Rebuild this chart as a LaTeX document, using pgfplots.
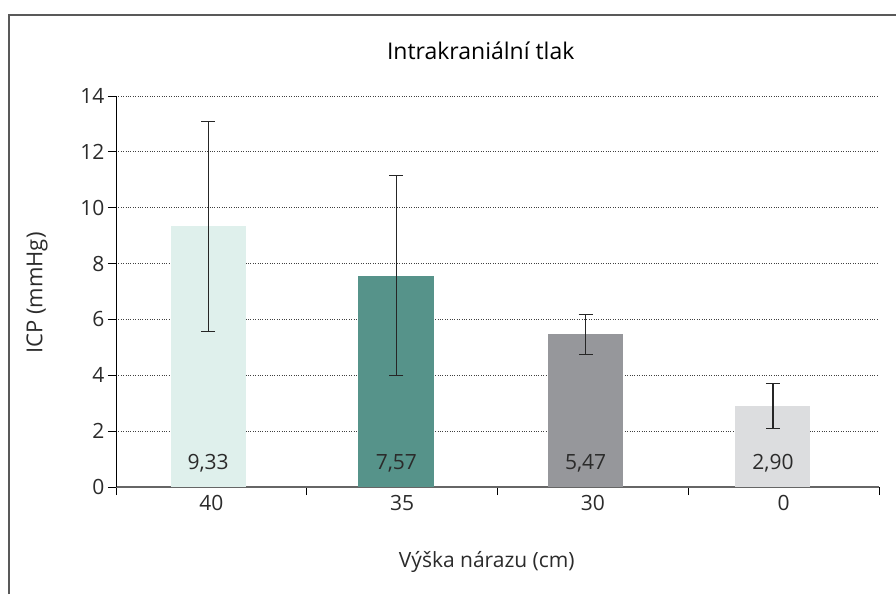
\documentclass[border=0pt]{standalone}
\usepackage{pgfplots}
\pgfplotsset{compat=1.18}
\usepackage{fontspec}
\setmainfont{Open Sans}
\definecolor{c1}{HTML}{DFF0EC}
\definecolor{c2}{HTML}{56938A}
\definecolor{c3}{HTML}{96979B}
\definecolor{c4}{HTML}{DCDDDF}
\definecolor{txt}{HTML}{2B2B2B}
\begin{document}
\begin{tikzpicture}[x=1pt,y=1pt]
\path[use as bounding box] (0,0) rectangle (896,594);
\draw[color=black!65, line width=1.3pt] (9,0) -- (9,579) -- (896,579);
\begin{axis}[
  at={(116pt,107pt)}, anchor=south west,
  scale only axis, width=763pt, height=391pt,
  xmin=-0.5, xmax=3.5, ymin=0, ymax=14,
  clip=false,
  axis x line*=bottom, axis y line*=left,
  x axis line style={color=black!60, line width=2pt},
  y axis line style={color=black, line width=0.9pt},
  xtick={-0.5,0.5,1.5,2.5,3.5}, xticklabels={},
  extra x ticks={0,1,2,3}, extra x tick labels={40,35,30,0},
  extra x tick style={major tick length=0pt},
  ytick={0,2,...,14},
  tick align=outside, major tick length=8pt,
  tick style={color=black, line width=0.9pt},
  ymajorgrids, grid style={black!75, dotted, line width=0.9pt},
  /pgf/number format/assume math mode=true,
  tick label style={font=\fontsize{21}{24}\selectfont, text=txt},
  xticklabel style={yshift=-5pt},
  title={Intrakraniální tlak},
  title style={at={(axis description cs:0.478,1.0997)}, anchor=center, font=\fontsize{23}{26}\selectfont, text=black},
  xlabel={Výška nárazu (cm)},
  xlabel style={at={(axis description cs:0.486,-0.192)}, anchor=center, font=\fontsize{21}{24}\selectfont, text=txt},
  ylabel={ICP (mmHg)},
  ylabel style={at={(axis description cs:-0.1035,0.496)}, anchor=center, rotate=0, font=\fontsize{22}{24}\selectfont, text=txt},
  error bars/error bar style={black!85, line width=1.2pt},
  error bars/error mark options={black!85, line width=1.2pt, mark size=7pt, rotate=90},
]
\addplot[ybar, bar width=75pt, fill=c1, draw=none,
  error bars/.cd, y dir=both, y explicit]
  coordinates {(-0.017,9.33) +- (0,3.75)};
\addplot[ybar, bar width=76pt, fill=c2, draw=none,
  error bars/.cd, y dir=both, y explicit]
  coordinates {(0.97,7.57) +- (0,3.57)};
\addplot[ybar, bar width=75pt, fill=c3, draw=none,
  error bars/.cd, y dir=both, y explicit]
  coordinates {(1.962,5.47) +- (0,0.72)};
\addplot[ybar, bar width=75pt, fill=c4, draw=none,
  error bars/.cd, y dir=both, y explicit]
  coordinates {(2.944,2.90) +- (0,0.81)};
\addplot[only marks, mark=none, nodes near coords, point meta=explicit symbolic,
  every node near coord/.append style={anchor=center, font=\fontsize{21}{24}\selectfont, text=txt}]
  table[meta=lab] {
x y lab
-0.017 0.86 {9,33}
0.97 0.86 {7,57}
1.962 0.86 {5,47}
2.944 0.86 {2,90}
};
\end{axis}
\end{tikzpicture}
\end{document}
